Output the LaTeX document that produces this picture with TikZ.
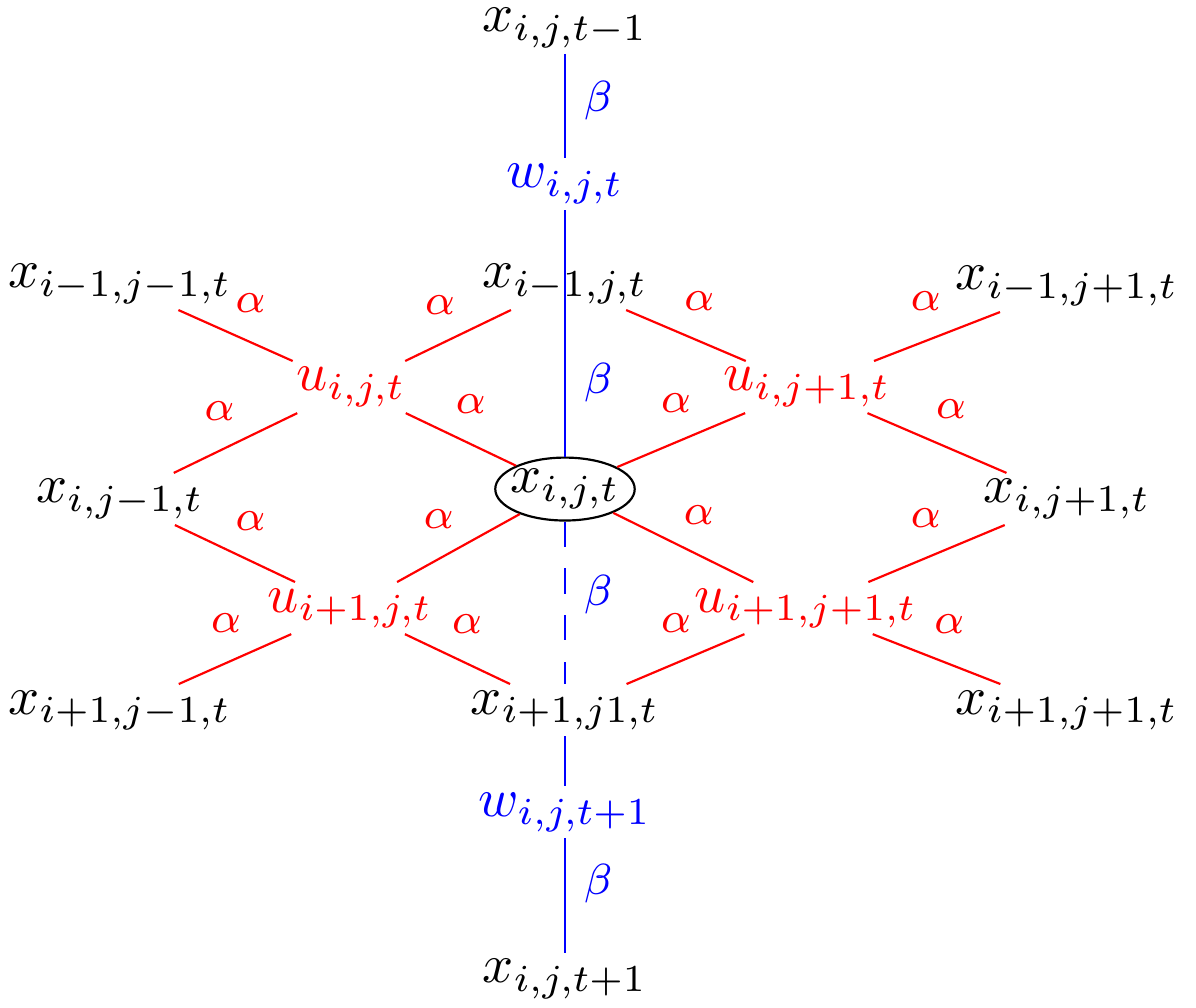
\documentclass[tikz,border=0pt]{standalone}
\usetikzlibrary{shapes.geometric}

\begin{document}
\begin{tikzpicture}[
    xvar/.style={inner sep=1pt},
    uvar/.style={inner sep=1pt, text=red},
    wvar/.style={inner sep=1pt, text=blue},
    redlink/.style={red},
    bluelink/.style={blue},
    dashlink/.style={dash pattern=on 4.6pt off 4pt},
    alab/.style={text=red, font=\footnotesize, above=2pt},
    blab/.style={text=blue, font=\footnotesize, right},
  ]
    \useasboundingbox (0,0) rectangle (7.716,-6.497);
    % time axis
    \node[xvar] (xtop) at (3.645,-0.18) {$x_{i,j,t-1}$};
    \node[wvar] (wtop) at (3.645,-1.187) {$w_{i,j,t}$};
    \node[wvar] (wbot) at (3.645,-5.239) {$w_{i,j,t+1}$};
    \node[xvar] (xbot) at (3.645,-6.316) {$x_{i,j,t+1}$};
    % spatial grid
    \node[xvar] (xnw) at (0.774,-1.832) {$x_{i-1,j-1,t}$};
    \node[xvar] (xn) at (3.645,-1.832) {$x_{i-1,j,t}$};
    \node[xvar] (xne) at (6.884,-1.845) {$x_{i-1,j+1,t}$};
    \node[uvar] (unw) at (2.265,-2.497) {$u_{i,j,t}$};
    \node[uvar] (une) at (5.206,-2.497) {$u_{i,j+1,t}$};
    \node[xvar] (xw) at (0.774,-3.219) {$x_{i,j-1,t}$};
    \node[draw, ellipse, inner xsep=-1pt, inner ysep=.5pt] (xc) at (3.645,-3.155) {$x_{i,j,t}$};
    \node[xvar] (xe) at (6.884,-3.219) {$x_{i,j+1,t}$};
    \node[uvar] (usw) at (2.258,-3.923) {$u_{i+1,j,t}$};
    \node[uvar] (use) at (5.200,-3.923) {$u_{i+1,j+1,t}$};
    \node[xvar] (xsw) at (0.774,-4.581) {$x_{i+1,j-1,t}$};
    \node[xvar] (xs) at (3.645,-4.581) {$x_{i+1,j1,t}$};
    \node[xvar] (xse) at (6.884,-4.581) {$x_{i+1,j+1,t}$};

    \draw[redlink] (xnw) -- node[alab, pos=.63] {$\alpha$} (unw);
    \draw[redlink] (unw) -- node[alab, pos=.33] {$\alpha$} (xn);
    \draw[redlink] (xn) -- node[alab, pos=.61] {$\alpha$} (une);
    \draw[redlink] (une) -- node[alab, pos=.41] {$\alpha$} (xne);
    \draw[redlink] (xw) -- node[alab, pos=.37] {$\alpha$} (unw);
    \draw[redlink] (unw) -- node[alab, pos=.59] {$\alpha$} (xc);
    \draw[redlink] (xc) -- node[alab, pos=.46] {$\alpha$} (une);
    \draw[redlink] (une) -- node[alab, pos=.6] {$\alpha$} (xe);
    \draw[redlink] (xw) -- node[alab, pos=.63] {$\alpha$} (usw);
    \draw[redlink] (usw) -- node[alab, pos=.34] {$\alpha$} (xc);
    \draw[redlink] (xc) -- node[alab, pos=.61] {$\alpha$} (use);
    \draw[redlink] (use) -- node[alab, pos=.42] {$\alpha$} (xe);
    \draw[redlink] (xsw) -- node[alab, pos=.42] {$\alpha$} (usw);
    \draw[redlink] (usw) -- node[alab, pos=.59] {$\alpha$} (xs);
    \draw[redlink] (xs) -- node[alab, pos=.42] {$\alpha$} (use);
    \draw[redlink] (use) -- node[alab, pos=.6] {$\alpha$} (xse);

    \draw[bluelink] (xtop) -- node[blab, pos=.45] {$\beta$} (wtop);
    \draw[bluelink] (wtop) -- node[blab, pos=.7] {$\beta$} (xc);
    \draw[bluelink, dashlink] (xc) -- node[blab, pos=.45] {$\beta$} (xs);
    \draw[bluelink] (xs) -- (wbot);
    \draw[bluelink] (wbot) -- node[blab, pos=.4] {$\beta$} (xbot);
\end{tikzpicture}
\end{document}
